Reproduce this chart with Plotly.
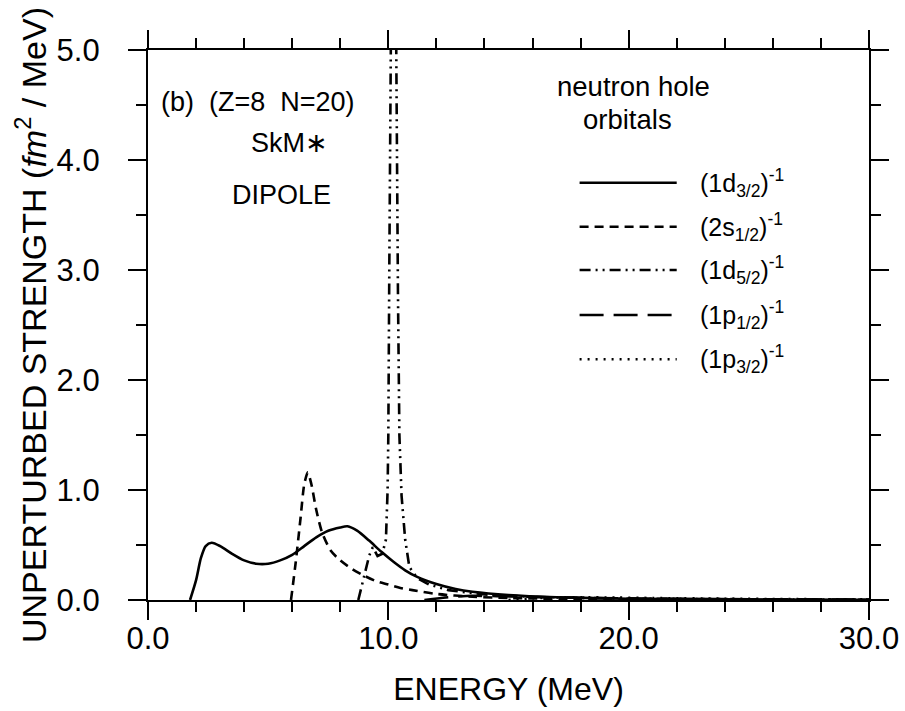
import plotly.graph_objects as go

# Unperturbed dipole strength for neutron-hole orbitals, (Z=8, N=20), SkM*
E_1d32 = [1.75, 2.0, 2.2, 2.4, 2.65, 3.0, 3.5, 4.0, 4.5, 5.0, 5.5, 6.0, 6.5, 7.0, 7.5,
          8.0, 8.3, 8.7, 9.2, 9.7, 10.2, 10.7, 11.2, 12.0, 12.8, 13.5, 15.0, 17.0, 20.0, 25.0, 30.0]
S_1d32 = [0.0, 0.18, 0.38, 0.49, 0.52, 0.49, 0.42, 0.36, 0.33, 0.33, 0.36, 0.41, 0.49, 0.57, 0.63,
          0.66, 0.67, 0.63, 0.54, 0.44, 0.35, 0.27, 0.21, 0.145, 0.10, 0.075, 0.045, 0.025, 0.012, 0.005, 0.002]

E_2s12 = [5.95, 6.15, 6.35, 6.5, 6.65, 6.8, 7.0, 7.25, 7.6, 8.0, 8.5, 9.0, 9.5, 10.0, 10.5,
          11.0, 12.0, 13.5, 15.0, 18.0, 22.0, 30.0]
S_2s12 = [0.0, 0.35, 0.75, 1.05, 1.16, 1.05, 0.82, 0.61, 0.45, 0.36, 0.28, 0.22, 0.17, 0.14, 0.11,
          0.09, 0.055, 0.03, 0.018, 0.008, 0.003, 0.001]

E_1d52 = [8.75, 9.0, 9.2, 9.35, 9.55, 9.75, 9.9, 9.97, 10.0, 10.04, 10.08, 10.15, 10.25, 10.33,
          10.4, 10.46, 10.55, 10.7, 10.875, 11.2, 11.7, 12.5, 14.0, 16.0, 20.0, 25.0, 30.0]
S_1d52 = [0.0, 0.22, 0.40, 0.48, 0.40, 0.42, 0.55, 1.0, 1.5, 3.0, 5.0, 6.5, 6.5, 5.0,
          2.8, 1.5, 0.95, 0.55, 0.30, 0.20, 0.14, 0.09, 0.05, 0.028, 0.012, 0.005, 0.002]

E_1p12 = [11.5, 12.5, 13.5, 14.5, 16.0, 18.0, 21.0, 25.0, 30.0]
S_1p12 = [0.0, 0.025, 0.038, 0.035, 0.028, 0.02, 0.012, 0.007, 0.004]

E_1p32 = [15.0, 16.0, 17.0, 18.0, 19.5, 21.0, 24.0, 27.0, 30.0]
S_1p32 = [0.0, 0.015, 0.024, 0.025, 0.022, 0.018, 0.012, 0.008, 0.005]

labels = ["(1d<sub>3/2</sub>)<sup>-1</sup>", "(2s<sub>1/2</sub>)<sup>-1</sup>",
          "(1d<sub>5/2</sub>)<sup>-1</sup>", "(1p<sub>1/2</sub>)<sup>-1</sup>",
          "(1p<sub>3/2</sub>)<sup>-1</sup>"]

x_ticks = [0, 10, 20, 30]
x_ticktext = ["0.0", "10.0", "20.0", "30.0"]
y_ticks = [0, 1, 2, 3, 4, 5]
y_ticktext = ["0.0", "1.0", "2.0", "3.0", "4.0", "5.0"]

series = [(E_1d32, S_1d32, "solid", "spline"),
          (E_2s12, S_2s12, "9px,6px", "spline"),
          (E_1d52, S_1d52, "11px,5px,2px,5px,2px,5px", "linear"),
          (E_1p12, S_1p12, "24px,10px", "spline"),
          (E_1p32, S_1p32, "2px,6px", "spline")]

FONT = "Liberation Sans, Arial, sans-serif"
LW = 2.6
fig = go.Figure()
for (ex, sy, dash, shp), name in zip(series, labels):
    fig.add_trace(go.Scatter(
        x=ex, y=sy, mode="lines", name=name, showlegend=False,
        line=dict(color="black", width=LW, dash=dash, shape=shp, smoothing=0.7),
    ))

# Key: sample line plus label for each orbital
row_y = [0.7587, 0.6787, 0.6, 0.5182, 0.4376]
for (ex, sy, dash, shp), name, yy in zip(series, labels, row_y):
    fig.add_shape(type="line", xref="paper", yref="paper", x0=0.5986, x1=0.7333,
                  y0=yy, y1=yy, line=dict(color="black", width=LW, dash=dash))
    fig.add_annotation(xref="paper", yref="paper", x=0.7625, y=yy, text=name,
                       showarrow=False, xanchor="left", yanchor="middle",
                       font=dict(family=FONT, size=25, color="black"))

notes = [("(b)\u00a0\u00a0(Z=8\u00a0\u00a0N=20)", 0.0153, 0.905, "left", 27),
         ("SkM\u2217", 0.196, 0.831, "center", 27),
         ("DIPOLE", 0.185, 0.7364, "center", 27),
         ("neutron hole", 0.565, 0.933, "left", 27.5),
         ("orbitals", 0.601, 0.873, "left", 27.5)]
for txt, xx, yy, anc, fs in notes:
    fig.add_annotation(xref="paper", yref="paper", x=xx, y=yy, text=txt,
                       showarrow=False, xanchor=anc, yanchor="middle",
                       font=dict(family=FONT, size=fs, color="black"))

axis_common = dict(showgrid=False, zeroline=False, showline=True, linecolor="black",
                   linewidth=2.2, mirror="ticks", ticks="outside", ticklen=18,
                   tickwidth=2.2, tickcolor="black",
                   tickfont=dict(family=FONT, size=31, color="black"))

fig.update_xaxes(range=[0, 30], tickvals=x_ticks, ticktext=x_ticktext,
                 minor=dict(ticks="outside", ticklen=10, tickwidth=2.2, dtick=2, tickcolor="black"),
                 title=dict(text="ENERGY (MeV)", font=dict(family=FONT, size=32, color="black"),
                            standoff=22),
                 ticklabelstandoff=-8, **axis_common)
fig.update_yaxes(range=[0, 5], tickvals=y_ticks, ticktext=y_ticktext,
                 minor=dict(ticks="outside", ticklen=10, tickwidth=2.2, dtick=0.5, tickcolor="black"),
                 title=dict(text="UNPERTURBED STRENGTH (<i>fm</i><sup>2</sup> / MeV)",
                            font=dict(family=FONT, size=34, color="black"), standoff=0),
                 ticklabelstandoff=22, **axis_common)

fig.update_layout(width=905, height=711, plot_bgcolor="white", paper_bgcolor="white",
                  margin=dict(l=148, r=36, t=50, b=111, autoexpand=False))

fig.write_html("out.html")
